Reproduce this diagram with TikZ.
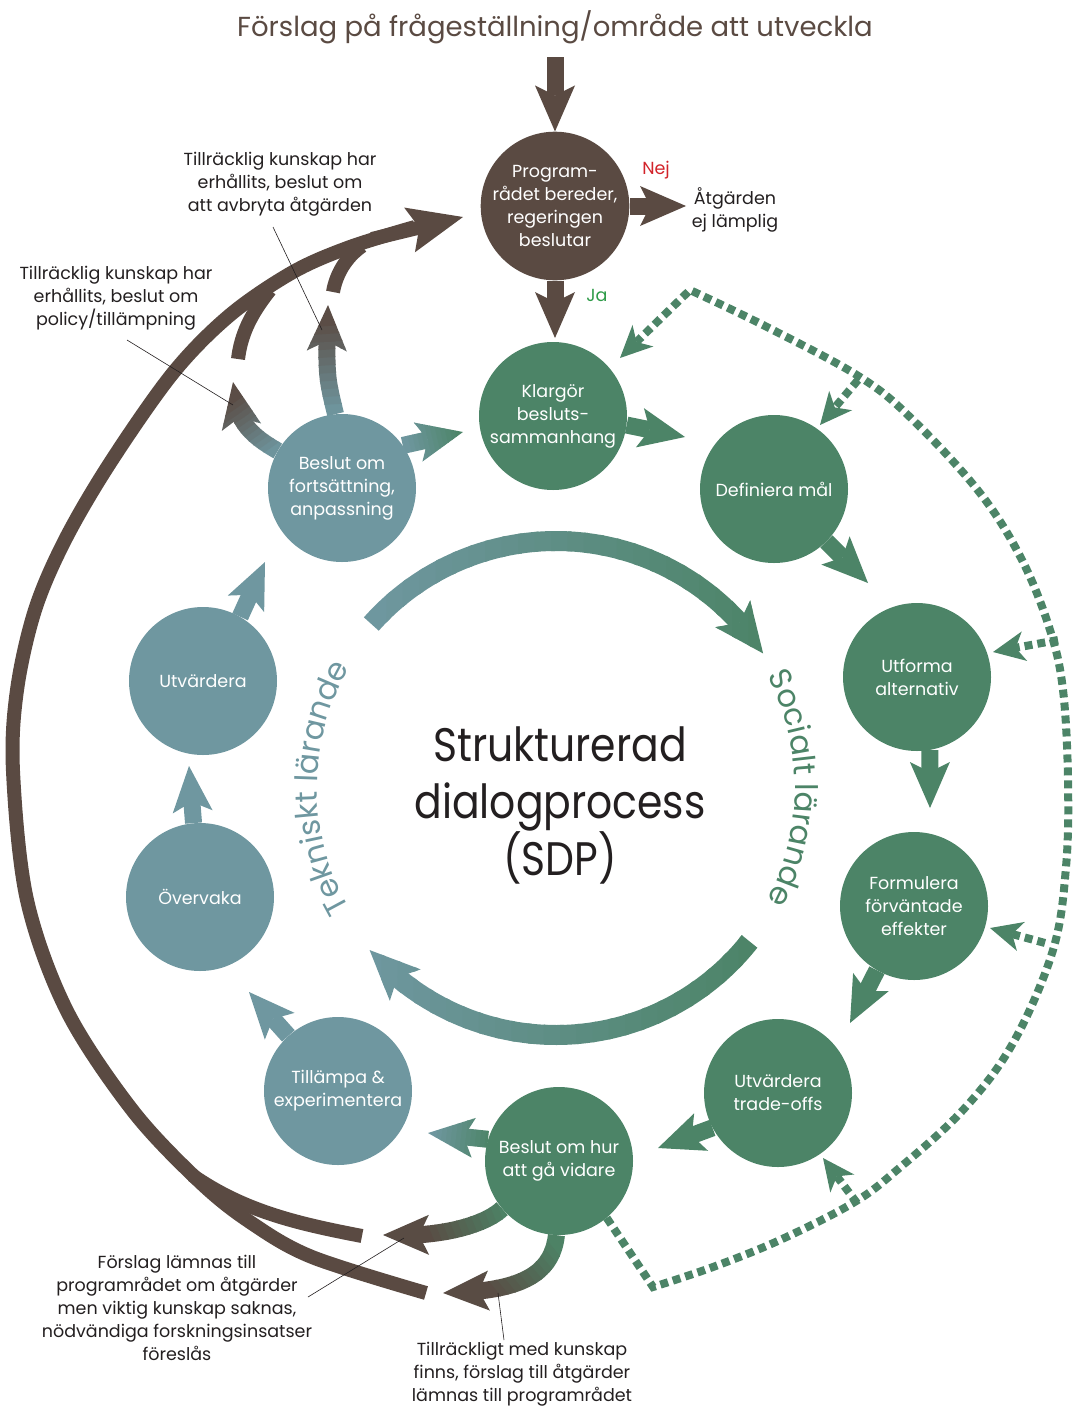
\documentclass[tikz,border=0pt]{standalone}
\usepackage{fontspec}
\setmainfont{Poppins}
\newfontfamily\narrowfont{Poppins}[FakeStretch=0.87]
\usetikzlibrary{arrows.meta,bending,calc,decorations.text,backgrounds}
\definecolor{cbrown}{HTML}{5A4A42}
\definecolor{cgreen}{HTML}{4C8467}
\definecolor{cblue}{HTML}{6F97A0}
\definecolor{cred}{HTML}{D2232A}
\definecolor{cja}{HTML}{2E9B48}
\definecolor{ctext}{HTML}{231F20}
\newcommand{\gradraw}[7]{%
  \coordinate (gP) at #2; \coordinate (gQ) at #3;
  \coordinate (gR) at ($(gP)!1!90:(gQ)$);
  \foreach \gi in {1,...,#1}{%
    \pgfmathsetmacro\ga{\gi==1 ? -4 : (\gi-1)/#1}%
    \pgfmathsetmacro\gb{\gi==#1 ? 5 : \gi/#1+0.01}%
    \pgfmathsetmacro\gc{100*(\gi-0.5)/#1}%
    \colorlet{gcol}{#5!\gc!#4}%
    \begin{scope}
      \clip ($(gP)!\ga!(gQ)+6*(gR)-6*(gP)$) -- ($(gP)!\gb!(gQ)+6*(gR)-6*(gP)$) -- ($(gP)!\gb!(gQ)-6*(gR)+6*(gP)$) -- ($(gP)!\ga!(gQ)-6*(gR)+6*(gP)$) -- cycle;
      \draw[#6,draw=gcol] #7;
    \end{scope}
  }%
}
\begin{document}
\begin{tikzpicture}[x=1pt,y=-1pt,
  circ/.style={circle,minimum size=148pt,inner sep=0pt,text=white,align=center,font=\fontsize{17.5}{23}\selectfont},
  lbl/.style={align=center,text=ctext,font=\fontsize{17.5}{23}\selectfont,inner sep=0pt},
  flow/.style={line width=17pt,-{Stealth[length=46pt,width=40pt,inset=10pt,line width=0pt]}},
  bigflow/.style={line width=14pt,-{Stealth[length=55pt,width=46pt,inset=10pt,line width=0pt]}},
  ringflow/.style={line width=20pt,-{Stealth[length=50pt,width=44pt,inset=11pt,line width=0pt]}},
  dots/.style={cgreen,line width=8pt,dash pattern=on 8pt off 5pt},
  dotflow/.style={dots,-{Stealth[length=32pt,width=30pt,inset=9pt,line width=0pt]}},
  leader/.style={ctext,line width=0.6pt},
]
\useasboundingbox (0,0) rectangle (1074,1408);

% circles
\node[circ,fill=cbrown] (prog) at (555,206) {Program-\\rådet bereder,\\regeringen\\beslutar};
\node[circ,fill=cgreen] (klar) at (553,416) {Klargör\\besluts-\\sammanhang};
\node[circ,fill=cgreen] (defi) at (774,489) {Definiera mål};
\node[circ,fill=cgreen] (utf) at (917,677) {Utforma\\alternativ};
\node[circ,fill=cgreen] (form) at (914,906) {Formulera\\förväntade\\effekter};
\node[circ,fill=cgreen] (trade) at (778,1093) {Utvärdera\\trade-offs};
\node[circ,fill=cgreen] (besh) at (559,1161) {Beslut om hur\\att gå vidare};
\node[circ,fill=cblue] (till) at (338,1091) {Tillämpa \&\\experimentera};
\node[circ,fill=cblue] (over) at (200,897) {Övervaka};
\node[circ,fill=cblue] (utv) at (203,681) {Utvärdera};
\node[circ,fill=cblue] (besf) at (342,488) {Beslut om\\fortsättning,\\anpassning};

% texts
\node[font=\fontsize{27.5}{33}\selectfont,text=cbrown,inner sep=0pt] (title) at (555,27) {Förslag på frågeställning/område att utveckla};
\node[font=\narrowfont\fontsize{47}{57}\selectfont,text=ctext,align=center,inner sep=0pt] (sdp) at (560,805) {Strukturerad\\dialogprocess\\(SDP)};
\node[lbl] (labAvb) at (280,184) {Tillräcklig kunskap har\\erhållits, beslut om\\att avbryta åtgärden};
\node[lbl] (labPol) at (116,298) {Tillräcklig kunskap har\\erhållits, beslut om\\policy/tillämpning};
\node[lbl] (labFor) at (177,1308) {Förslag lämnas till\\programrådet om åtgärder\\men viktig kunskap saknas,\\nödvändiga forskningsinsatser\\föreslås};
\node[lbl] (labTil) at (522,1374) {Tillräckligt med kunskap\\finns, förslag till åtgärder\\lämnas till programrådet};
\node[lbl] (labAtg) at (735,210) {Åtgärden\\ej lämplig};
\node[lbl,text=cred] (nej) at (656,170) {Nej};
\node[lbl,text=cja] (ja) at (597,295) {Ja};

% named free ends
\coordinate (tstart) at (555,57);
\coordinate (nejtip) at (686,206);
\coordinate (jatip) at (555,338);
\coordinate (defiin) at (685,437);
\coordinate (utfin) at (868,583);
\coordinate (formin) at (930,808);
\coordinate (tradein) at (850,1023);
\coordinate (beshin) at (658,1148);
\coordinate (tillin) at (428,1133);
\coordinate (overin) at (249,992);
\coordinate (utvin) at (189,766);
\coordinate (besfin) at (265,562);
\coordinate (klarin) at (463,432);
\coordinate (abtip) at (328,305);
\coordinate (poltip) at (233,382);
\coordinate (atip) at (383,1235);
\coordinate (btip) at (443,1293);
\coordinate (arcA) at (426,1293);
\coordinate (arcB) at (362,1236);
\coordinate (arcC) at (372,239);
\coordinate (arcD) at (415,227);
\coordinate (progtip) at (463,217);
\coordinate (stubA) at (238,359);
\coordinate (stubB) at (333,292);
\coordinate (rc) at (556,788);
\coordinate (dcorner) at (690,290);
\coordinate (klartip) at (620,358);
\coordinate (b1) at (858,380);
\coordinate (defitip) at (820,425);
\coordinate (b2) at (1058,640);
\coordinate (utftip) at (993,652);
\coordinate (b3) at (1045,943);
\coordinate (formtip) at (990,928);
\coordinate (b4) at (857,1203);
\coordinate (tradetip) at (823,1158);

\begin{scope}[on background layer]
% brown flows
\draw[flow,cbrown] (tstart) -- (prog.north);
\draw[flow,cbrown] (prog.east) -- (nejtip);
\draw[flow,cbrown] (prog.south) -- (jatip);
% green flows
\draw[flow,cgreen] (klar.-7) -- (defiin);
\draw[flow,cgreen] (defi.-45) -- (utfin);
\draw[flow,cgreen] (utf.-80) -- (formin);
\draw[flow,cgreen] (form.-120) -- (tradein);
\draw[flow,cgreen] (trade.-152) -- (beshin);
% blue flows
\draw[flow,cblue] (till.132) -- (overin);
\draw[flow,cblue] (over.95) -- (utvin);
\draw[flow,cblue] (utv.60) -- (besfin);
% gradient flows
\gradraw{12}{(405,445)}{(460,432)}{cblue}{cgreen}{flow}{(besf.35) -- (klarin)}
\gradraw{12}{(490,1140)}{(432,1133)}{cgreen}{cblue}{flow}{(besh.163) -- (tillin)}
\gradraw{12}{(336,412)}{(330,318)}{cblue}{cbrown}{flow}{(besf.95) .. controls (326,375) .. (abtip)}
\gradraw{12}{(275,452)}{(235,395)}{cblue}{cbrown}{flow}{(besf.150) .. controls (250,435) and (234,420) .. (poltip)}
\gradraw{12}{(505,1205)}{(425,1237)}{cgreen}{cbrown}{flow}{(besh.-140) .. controls (485,1225) and (440,1238) .. (atip)}
\gradraw{12}{(556,1240)}{(490,1294)}{cgreen}{cbrown}{flow}{(besh.-92) .. controls (552,1275) and (520,1292) .. (btip)}
% big brown arc
\draw[cbrown,line width=14pt] plot[smooth,tension=0.55] coordinates {(arcA) (312,1257) (250,1222) (200,1182) (133,1111) (67,1011) (27,900) (13,771) (17,690) (35,610) (65,540) (110,463) (173,373) (230,315) (293,272) (350,247) (arcD)};
\draw[bigflow,cbrown] (arcC) -- (progtip);
\draw[cbrown,line width=14pt] (arcB) .. controls (300,1224) and (245,1212) .. (192,1175);
\draw[cbrown,line width=14pt] (stubA) .. controls (241,335) and (250,315) .. (270,290);
\draw[cbrown,line width=14pt] (stubB) .. controls (336,275) and (345,258) .. (362,246);
% inner ring
\gradraw{24}{(370,600)}{(765,600)}{cblue}{cgreen}{ringflow}{(rc) ++(-138.4:247) arc[start angle=-138.4, end angle=-33, radius=247]}
\gradraw{24}{(365,1000)}{(755,1000)}{cblue}{cgreen}{ringflow}{(rc) ++(38.4:247) arc[start angle=38.4, end angle=139, radius=247]}
% dotted feedback
\draw[dotflow] (besh.-50) -- plot[smooth,tension=0.6] coordinates {(653,1287) (713,1267) (780,1240) (853,1203) (897,1170) (963,1110) (1013,1043) (1053,950) (1066,867) (1068,780) (1063,690) (1050,630) (1022,560) (980,493) (913,420) (860,377) (767,327) (dcorner)} -- (klartip);
\draw[dotflow] (b1) -- (defitip);
\draw[dotflow] (b2) -- (utftip);
\draw[dotflow] (b3) -- (formtip);
\draw[dotflow] (b4) -- (tradetip);
\end{scope}

% ring texts
\path[decorate,decoration={text along path,text={|\fontsize{31}{36}\selectfont|Tekniskt lärande},text align=center,text color=cblue}] (rc) ++(-225:239) arc[start angle=-225, end angle=-135, radius=239];
\path[decorate,decoration={text along path,text={|\fontsize{31}{36}\selectfont|Socialt lärande},text align=center,text color=cgreen}] (rc) ++(-45:239) arc[start angle=-45, end angle=45, radius=239];

% leader lines
\coordinate (la1) at (273,227); \coordinate (la2) at (322,330);
\coordinate (lp1) at (127,340); \coordinate (lp2) at (233,405);
\coordinate (lf1) at (308,1297); \coordinate (lf2) at (404,1238);
\coordinate (lt1) at (504,1340); \coordinate (lt2) at (498,1293);
\draw[leader] (la1) -- (la2);
\draw[leader] (lp1) -- (lp2);
\draw[leader] (lf1) -- (lf2);
\draw[leader] (lt1) -- (lt2);
\end{tikzpicture}
\end{document}
